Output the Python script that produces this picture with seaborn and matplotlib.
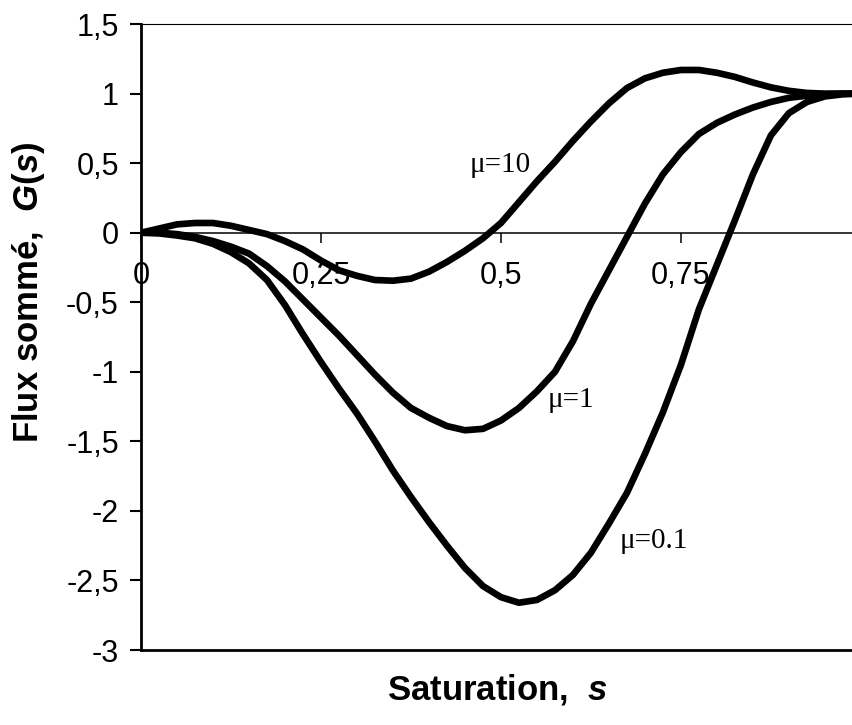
import matplotlib
matplotlib.use("Agg")
import matplotlib.pyplot as plt
import pandas as pd
import seaborn as sns

# saturation grid
s_vals = [0, 0.025, 0.05, 0.075, 0.1, 0.125, 0.15, 0.175, 0.2, 0.225,
          0.25, 0.275, 0.3, 0.325, 0.35, 0.375, 0.4, 0.425, 0.45, 0.475,
          0.5, 0.525, 0.55, 0.575, 0.6, 0.625, 0.65, 0.675, 0.7, 0.725,
          0.75, 0.775, 0.8, 0.825, 0.85, 0.875, 0.9, 0.925, 0.95, 0.975, 1.0]

# summed flux G(s) for each mu
g_mu10 = [0, 0.03, 0.06, 0.07, 0.07, 0.05, 0.02, -0.01, -0.06, -0.12,
          -0.20, -0.27, -0.31, -0.34, -0.345, -0.33, -0.28, -0.21, -0.13, -0.04,
          0.07, 0.22, 0.37, 0.51, 0.66, 0.80, 0.93, 1.04, 1.11, 1.15,
          1.17, 1.17, 1.15, 1.12, 1.08, 1.045, 1.02, 1.005, 1.0, 1.0, 1.0]
g_mu1 = [0, 0.0, -0.01, -0.03, -0.06, -0.10, -0.15, -0.24, -0.35, -0.48,
         -0.61, -0.74, -0.88, -1.02, -1.15, -1.26, -1.33, -1.39, -1.42, -1.41,
         -1.35, -1.26, -1.14, -1.00, -0.78, -0.51, -0.27, -0.03, 0.21, 0.42,
         0.58, 0.71, 0.79, 0.85, 0.90, 0.94, 0.97, 0.985, 0.995, 1.0, 1.0]
g_mu01 = [0, -0.005, -0.02, -0.04, -0.08, -0.14, -0.22, -0.34, -0.52, -0.73,
          -0.93, -1.12, -1.30, -1.50, -1.71, -1.90, -2.08, -2.25, -2.41, -2.54,
          -2.62, -2.66, -2.64, -2.57, -2.46, -2.30, -2.09, -1.87, -1.59, -1.29,
          -0.95, -0.55, -0.23, 0.09, 0.42, 0.70, 0.86, 0.94, 0.98, 0.995, 1.0]

mu_names = ["μ=10", "μ=1", "μ=0.1"]
# where each curve label sits (data coords)
label_x = [0.457, 0.565, 0.665]
label_y = [0.44, -1.25, -2.27]

x_ticks = [0, 0.25, 0.5, 0.75]
x_tick_labels = ["0", "0,25", "0,5", "0,75"]
y_ticks = [1.5, 1, 0.5, 0, -0.5, -1, -1.5, -2, -2.5, -3]
y_tick_labels = ["1,5", "1", "0,5", "0", "-0,5", "-1", "-1,5", "-2", "-2,5", "-3"]

df = pd.concat([
    pd.DataFrame({"s": s_vals, "G": g_mu10, "mu": mu_names[0]}),
    pd.DataFrame({"s": s_vals, "G": g_mu1, "mu": mu_names[1]}),
    pd.DataFrame({"s": s_vals, "G": g_mu01, "mu": mu_names[2]}),
])

sns.set_style("white")
plt.rcParams["font.family"] = ["Liberation Sans", "DejaVu Sans"]
plt.rcParams["mathtext.fontset"] = "custom"
plt.rcParams["mathtext.it"] = "Liberation Sans:italic:bold"
plt.rcParams["mathtext.rm"] = "Liberation Sans:bold"
for key in ["text.color", "axes.labelcolor", "xtick.color", "ytick.color"]:
    plt.rcParams[key] = "black"

fig = plt.figure(figsize=(8.53, 7.25), dpi=100)
ax = fig.add_axes([0.1653, 0.1034, 0.8347, 0.8634])

sns.lineplot(data=df, x="s", y="G", hue="mu", palette=["black"] * 3,
             estimator=None, legend=False, linewidth=4.8,
             solid_joinstyle="round", ax=ax)

ax.set_xlim(0, 0.989)
ax.set_ylim(-3, 1.5)

# x axis sits on G = 0, frame closed at -3
ax.spines["bottom"].set_position(("data", 0))
ax.spines["bottom"].set_linewidth(1.1)
ax.spines["right"].set_visible(False)
ax.spines["top"].set_linewidth(0.8)
ax.spines["left"].set_linewidth(2)
for sp in ax.spines.values():
    sp.set_color("black")
ax.axhline(-3, color="black", linewidth=2, clip_on=False)

ax.set_xticks(x_ticks)
ax.set_xticklabels(x_tick_labels)
ax.set_yticks(y_ticks)
ax.set_yticklabels(y_tick_labels)
ax.tick_params(axis="x", direction="out", length=7, width=1.1, pad=13,
               labelsize=22, bottom=True)
ax.tick_params(axis="y", direction="out", length=8, width=1.5, pad=8,
               labelsize=22, left=True)

ax.set_xlabel("Saturation,  $s$", fontsize=25, fontweight="bold")
ax.set_ylabel("Flux sommé,  $G$($s$)", fontsize=25, fontweight="bold")
ax.xaxis.set_label_coords(0.5, -0.035)
ax.yaxis.set_label_coords(-0.132, 0.572)

for name, lx, ly in zip(mu_names, label_x, label_y):
    ax.text(lx, ly, name, fontsize=21, family="Liberation Serif",
            ha="left", va="baseline")

fig.savefig("out.png", dpi=100)
